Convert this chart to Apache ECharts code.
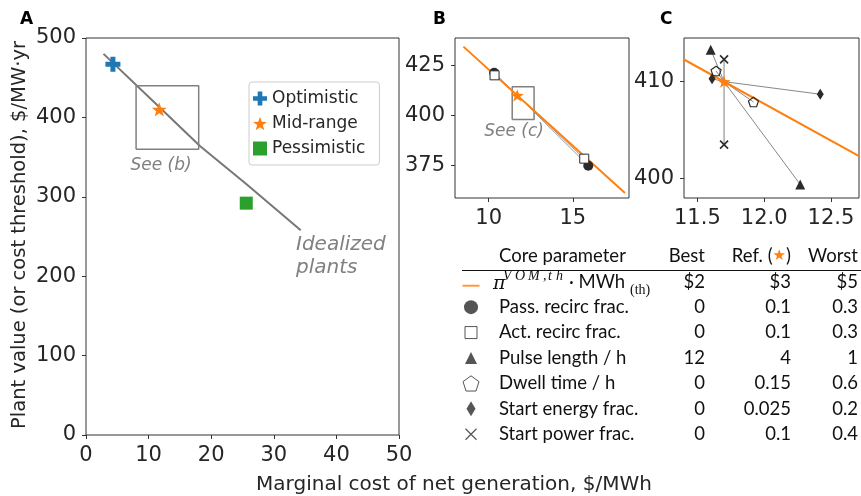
<!DOCTYPE html>
<html lang="en" style="height: 100%;margin: 0;background-color: #fff;">
<head>
    <meta charset="UTF-8">
    <title>chart</title>
</head>
<body style="height: 100%;margin: 0;background-color: #fff;">
<div id="chart" style="width: 861px;height: 496px;margin: 0;"></div>
<script src="https://cdn.jsdelivr.net/npm/echarts@6/dist/echarts.min.js"></script>
<script>
    // panel A
    var idealX = [2.8, 11.7, 18.2, 25.6, 34.3];
    var idealY = [480, 413, 364, 316, 258];
    var scenarioNames = ["Optimistic", "Mid-range", "Pessimistic"];
    var scenarioX = [4.3, 11.7, 25.6];
    var scenarioY = [467, 410, 292];
    var boxB = [8, 18, 360, 440];
    // panels B and C: [best, worst], all lines go through the reference point
    var refX = 11.7, refY = 410;
    var vomX = [8.5, 18.1], vomY = [434.3, 361.4];
    var passX = [10.33, 15.92], passY = [421.3, 375.0];
    var actX = [10.35, 15.68], actY = [420.0, 378.5];
    var pulseX = [11.6, 12.27], pulseY = [413.3, 399.4];
    var dwellX = [11.64, 11.92], dwellY = [411.1, 407.9];
    var startEX = [11.61, 12.42], startEY = [410.3, 408.7];
    var startPX = [11.7, 11.7], startPY = [412.3, 403.5];
    var boxC = [11.4, 12.7, 398, 414.3];
    var ticksBx = [10, 15], ticksBy = [375, 400, 425];
    var ticksCx = [11.5, 12.0, 12.5], ticksCy = [400, 410];
    // table
    var tableParams = ["", "Pass. recirc frac.", "Act. recirc frac.", "Pulse length / h", "Dwell time / h", "Start energy frac.", "Start power frac."];
    var tableBest = ["$2", "0", "0", "12", "0", "0", "0"];
    var tableRef = ["$3", "0.1", "0.1", "4", "0.15", "0.025", "0.1"];
    var tableWorst = ["$5", "0.3", "0.3", "1", "0.6", "0.2", "0.4"];

    var dark = "#2b2b2b", gray = "#808080", orange = "#ff7f0e";
    var star = "path://M0,-10L2.35,-3.24L9.51,-3.09L3.8,1.24L5.88,8.09L0,4L-5.88,8.09L-3.8,1.24L-9.51,-3.09L-2.35,-3.24Z";
    var plus = "path://M-1,-3L1,-3L1,-1L3,-1L3,1L1,1L1,3L-1,3L-1,1L-3,1L-3,-1L-1,-1Z";
    var pentagon = "path://M0,-1L0.951,-0.309L0.588,0.809L-0.588,0.809L-0.951,-0.309Z";
    var cross = "path://M-1,-1L1,1M1,-1L-1,1";

    var chart = echarts.init(document.getElementById("chart"), null, {renderer: 'canvas'});

    function sweep(xs, ys) {
        return [[xs[0], ys[0]], [refX, refY], [xs[1], ys[1]]];
    }
    function boxData(b) {
        return [[b[0], b[2]], [b[1], b[2]], [b[1], b[3]], [b[0], b[3]], [b[0], b[2]]];
    }
    function lineS(gi, data, color, width, z) {
        return {type: 'line', xAxisIndex: gi, yAxisIndex: gi, data: data, symbol: 'none', silent: true,
            lineStyle: {color: color, width: width}, z: z};
    }
    function ptS(gi, data, symbol, size, fill, stroke, bw, name) {
        return {type: 'scatter', name: name, xAxisIndex: gi, yAxisIndex: gi, data: data, symbol: symbol,
            symbolSize: size, symbolKeepAspect: true, silent: true, z: 5,
            itemStyle: {color: fill, borderColor: stroke || fill, borderWidth: bw || 0, opacity: 1}};
    }
    function ends(xs, ys) {
        return [[xs[0], ys[0]], [xs[1], ys[1]]];
    }

    var tickFont = {fontFamily: "DejaVu Sans", fontSize: 21, color: "#262626"};
    function valAxis(gi, min, max, interval, custom, fmt) {
        var ax = {type: 'value', gridIndex: gi, min: min, max: max, splitLine: {show: false},
            axisLine: {show: false},
            axisTick: {show: true, length: 4, lineStyle: {color: "#333", width: 1}},
            axisLabel: Object.assign({margin: 10}, tickFont)};
        if (interval) ax.interval = interval;
        if (custom) {
            ax.axisTick.customValues = custom;
            ax.axisLabel.customValues = custom;
        }
        if (fmt) ax.axisLabel.formatter = fmt;
        return ax;
    }
    function oneDec(v) { return v.toFixed(1); }

    var series = [
        // A
        lineS(0, idealX.map(function (x, i) { return [x, idealY[i]]; }), "#777", 2, 2),
        lineS(0, boxData(boxB), gray, 1.5, 2),
        ptS(0, [[scenarioX[0], scenarioY[0]]], plus, 15, "#1f77b4", null, 0, scenarioNames[0]),
        ptS(0, [[scenarioX[1], scenarioY[1]]], star, 15, orange, null, 0, scenarioNames[1]),
        ptS(0, [[scenarioX[2], scenarioY[2]]], 'rect', 13, "#2ca02c", null, 0, scenarioNames[2]),
        // B
        lineS(1, sweep(passX, passY), "#999", 1, 2),
        lineS(1, sweep(actX, actY), "#999", 1, 2),
        lineS(1, ends(vomX, vomY), orange, 2, 3),
        lineS(1, boxData(boxC), gray, 1.5, 2),
        ptS(1, ends(passX, passY), 'circle', 10, dark),
        ptS(1, ends(actX, actY), 'rect', 9, "#fff", dark, 1),
        ptS(1, [[refX, refY]], star, 13, orange),
        // C
        lineS(2, sweep(pulseX, pulseY), "#888", 1, 2),
        lineS(2, sweep(dwellX, dwellY), "#888", 1, 2),
        lineS(2, sweep(startEX, startEY), "#888", 1, 2),
        lineS(2, [[startPX[0], startPY[0]], [startPX[1], startPY[1]]], "#aaa", 1.5, 2),
        lineS(2, ends(vomX, vomY), orange, 2, 3),
        ptS(2, ends(pulseX, pulseY), 'triangle', 10, dark),
        ptS(2, ends(dwellX, dwellY), pentagon, 10, "none", dark, 1.2),
        ptS(2, ends(startEX, startEY), 'diamond', [7, 11], dark),
        ptS(2, ends(startPX, startPY), cross, 8, "none", dark, 1.6),
        ptS(2, [[refX, refY]], star, 13, orange),
        // table keys
        {type: 'scatter', xAxisIndex: 3, yAxisIndex: 3, silent: true, symbolKeepAspect: true,
            data: [
                {value: [0, 0], symbol: 'rect', symbolSize: [17, 2], symbolOffset: [0, 4], itemStyle: {color: orange}},
                {value: [0, 1], symbol: 'circle', symbolSize: 14, itemStyle: {color: dark}},
                {value: [0, 2], symbol: 'rect', symbolSize: 12, itemStyle: {color: "#fff", borderColor: dark, borderWidth: 1}},
                {value: [0, 3], symbol: 'triangle', symbolSize: 12, itemStyle: {color: dark}},
                {value: [0, 4], symbol: pentagon, symbolSize: 16, itemStyle: {color: "#fff", borderColor: dark, borderWidth: 1}},
                {value: [0, 5], symbol: 'diamond', symbolSize: [9, 15], itemStyle: {color: dark}},
                {value: [0, 6], symbol: cross, symbolSize: 11, itemStyle: {color: "none", borderColor: dark, borderWidth: 1.2}}
            ]}
    ];

    var tFont = "Lato";
    var tSize = "18.5px ";
    var graphic = [
        {type: 'text', left: 20, top: 11, style: {text: "A", font: "bold 17px 'DejaVu Sans'", fill: "#000"}},
        {type: 'text', left: 433, top: 11, style: {text: "B", font: "bold 17px 'DejaVu Sans'", fill: "#000"}},
        {type: 'text', left: 660, top: 11, style: {text: "C", font: "bold 17px 'DejaVu Sans'", fill: "#000"}},
        {type: 'text', x: 20, y: 235, rotation: Math.PI / 2,
            style: {text: "Plant value (or cost threshold), $/MW\u00b7yr", font: "19.5px 'DejaVu Sans'", fill: "#262626", textAlign: 'center', textVerticalAlign: 'middle'}},
        {type: 'text', x: 454, y: 485,
            style: {text: "Marginal cost of net generation, $/MWh", font: "20px 'DejaVu Sans'", fill: "#262626", textAlign: 'center', textVerticalAlign: 'middle'}},
        {type: 'text', x: 161, y: 166,
            style: {text: "See (b)", font: "italic 17px 'DejaVu Sans'", fill: gray, textAlign: 'center', textVerticalAlign: 'middle'}},
        {type: 'text', x: 514, y: 132,
            style: {text: "See (c)", font: "italic 17px 'DejaVu Sans'", fill: gray, textAlign: 'center', textVerticalAlign: 'middle'}},
        {type: 'text', x: 296, y: 245,
            style: {text: "Idealized", font: "italic 20px 'DejaVu Sans'", fill: gray, textVerticalAlign: 'middle'}},
        {type: 'text', x: 296, y: 268,
            style: {text: "plants", font: "italic 20px 'DejaVu Sans'", fill: gray, textVerticalAlign: 'middle'}},
        // table header
        {type: 'text', x: 499, y: 256, style: {text: "Core parameter", font: tSize + tFont, fill: "#111", textVerticalAlign: 'middle'}},
        {type: 'text', x: 705, y: 256, style: {text: "Best", font: tSize + tFont, fill: "#111", textAlign: 'right', textVerticalAlign: 'middle'}},
        {type: 'text', x: 791, y: 256, style: {text: "{t|Ref. (}{s|\u2605}{t|)}", textAlign: 'right', textVerticalAlign: 'middle',
            rich: {t: {fontFamily: tFont, fontSize: 18.5, fill: "#111"}, s: {fontFamily: "DejaVu Sans", fontSize: 15, fill: orange}}}},
        {type: 'text', x: 858, y: 256, style: {text: "Worst", font: tSize + tFont, fill: "#111", textAlign: 'right', textVerticalAlign: 'middle'}},
        {type: 'line', shape: {x1: 462, y1: 270.5, x2: 861, y2: 270.5}, style: {stroke: "#111", lineWidth: 1}},
        // pi^{VOM,th} . MWh_(th)
        {type: 'text', x: 493, y: 284, style: {text: "\u03c0", font: "italic 19px 'DejaVu Serif'", fill: "#111", textVerticalAlign: 'middle'}},
        {type: 'text', x: 569, y: 282, style: {text: "\u00b7 MWh", font: tSize + tFont, fill: "#111", textVerticalAlign: 'middle'}},
        {type: 'text', x: 630, y: 290, style: {text: "(th)", font: "14px 'Liberation Serif'", fill: "#111", textVerticalAlign: 'middle'}}
    ];
    var supChars = ["V", "O", "M", ",", "t", "h"];
    var supPos = [503, 515, 528, 543, 548, 556];
    for (var k = 0; k < supChars.length; k++) {
        graphic.push({type: 'text', x: supPos[k], y: 276, style: {text: supChars[k], font: "italic 14px 'Liberation Serif'", fill: "#111", textVerticalAlign: 'middle'}});
    }
    for (var r = 0; r < tableParams.length; r++) {
        var ty = 281.7 + r * 25.4;
        if (tableParams[r]) {
            graphic.push({type: 'text', x: 499, y: ty, style: {text: tableParams[r], font: tSize + tFont, fill: "#111", textVerticalAlign: 'middle'}});
        }
        graphic.push({type: 'text', x: 705, y: ty, style: {text: tableBest[r], font: tSize + tFont, fill: "#111", textAlign: 'right', textVerticalAlign: 'middle'}});
        graphic.push({type: 'text', x: 791, y: ty, style: {text: tableRef[r], font: tSize + tFont, fill: "#111", textAlign: 'right', textVerticalAlign: 'middle'}});
        graphic.push({type: 'text', x: 858, y: ty, style: {text: tableWorst[r], font: tSize + tFont, fill: "#111", textAlign: 'right', textVerticalAlign: 'middle'}});
    }

    var gridStyle = {show: true, borderColor: "#333", borderWidth: 1, backgroundColor: "transparent", containLabel: false};
    var option = {
        animation: false,
        backgroundColor: "#fff",
        grid: [
            Object.assign({left: 86, top: 38, width: 313, height: 397}, gridStyle),
            Object.assign({left: 455, top: 38, width: 174, height: 160}, gridStyle),
            Object.assign({left: 684, top: 38, width: 175, height: 160}, gridStyle),
            {left: 461, top: 269, width: 20, height: 178, show: false}
        ],
        xAxis: [
            valAxis(0, 0, 50, 10),
            valAxis(1, 8, 18.34, null, ticksBx),
            valAxis(2, 11.4, 12.71, null, ticksCx, oneDec),
            {type: 'value', gridIndex: 3, min: -1, max: 1, show: false}
        ],
        yAxis: [
            valAxis(0, 0, 500, 100),
            valAxis(1, 358.9, 438.6, null, ticksBy),
            valAxis(2, 398, 414.5, null, ticksCy),
            {type: 'category', gridIndex: 3, data: tableParams.map(function (p, i) { return "r" + i; }), inverse: true, show: false}
        ],
        legend: {
            data: [
                {name: scenarioNames[0], icon: plus},
                {name: scenarioNames[1], icon: star},
                {name: scenarioNames[2], icon: 'rect'}
            ],
            orient: 'vertical', left: 249, top: 82, padding: [8, 14, 8, 4],
            itemWidth: 14, itemHeight: 14, itemGap: 8, itemTextGap: 11,
            borderColor: "#ccc", borderWidth: 1, borderRadius: 3, backgroundColor: "rgba(255,255,255,0.8)",
            textStyle: {fontFamily: "DejaVu Sans", fontSize: 17, color: "#262626"},
            selectedMode: false
        },
        graphic: graphic,
        series: series
    };
    chart.setOption(option, true);
</script>
</body>
</html>
